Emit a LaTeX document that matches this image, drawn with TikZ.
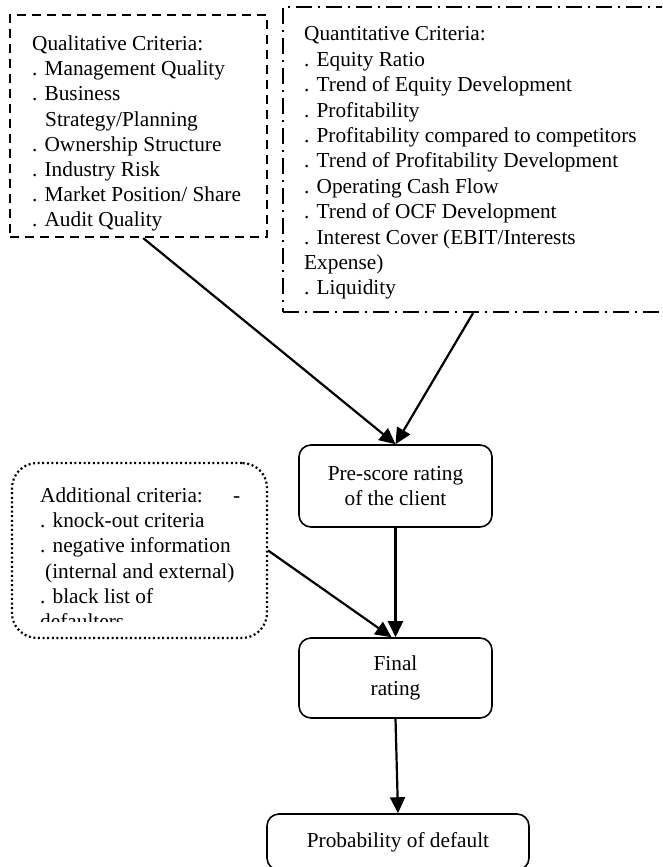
\documentclass[tikz,border=0pt]{standalone}
\usepackage{fontspec}
\setmainfont{Liberation Serif}
\usetikzlibrary{arrows.meta,calc}
\begin{document}
\begin{tikzpicture}[x=1pt,y=-1pt,
  txt/.style={inner sep=0pt,anchor=north west,align=left,font=\fontsize{21.3}{25.2}\selectfont},
  dashbox/.style={draw,line width=2.2pt,dash pattern=on 9pt off 6pt,inner sep=0pt},
  dashdotbox/.style={draw,line width=2.2pt,dash pattern=on 16pt off 6pt on 2pt off 6pt,inner sep=0pt},
  dotbox/.style={draw,line width=2.2pt,dash pattern=on 2pt off 2.6pt,rounded corners=25pt,inner sep=0pt},
  flowbox/.style={draw,line width=1.6pt,rounded corners=12pt,inner sep=0pt,align=center,font=\fontsize{21.3}{25}\selectfont},
  arr/.style={line width=2.2pt,-{Triangle[length=16pt,width=15pt]}}]
\clip (0,0) rectangle (662,867);
\fill[white] (0,0) rectangle (662,867);

% qualitative box
\node[dashbox,minimum width=257pt,minimum height=222pt] (qual) at (138.5,126) {};
\node[txt] (qualtxt) at (32,35.5) {Qualitative Criteria:\\
. Management Quality\\
. Business\\
\hspace*{13pt}Strategy/Planning\\
. Ownership Structure\\
. Industry Risk\\
. Market Position/ Share\\
. Audit Quality};

% quantitative box
\node[dashdotbox,minimum width=417pt,minimum height=305pt] (quant) at (491.5,159.5) {};
\node[txt,font=\fontsize{21.3}{25.4}\selectfont] (quanttxt) at (304,26.5) {Quantitative Criteria:\\
. Equity Ratio\\
. Trend of Equity Development\\
. Profitability\\
. Profitability compared to competitors\\
. Trend of Profitability Development\\
. Operating Cash Flow\\
. Trend of OCF Development\\
. Interest Cover (EBIT/Interests\\
Expense)\\
. Liquidity};

% additional criteria box
\node[dotbox,minimum width=255pt,minimum height=175pt] (add) at (139.5,550.5) {};
\begin{scope}
\clip (14,465) rectangle (265,621);
\node[txt] (addtxt) at (40,487.5) {\makebox[193pt][l]{Additional criteria:}-\\
. knock-out criteria\\
. negative information\\
\hspace*{5pt}(internal and external)\\
. black list of\\
defaulters};
\end{scope}

% flow boxes
\node[flowbox,minimum width=193pt,minimum height=82pt] (pre) at (395.5,486) {Pre-score rating\\of the client};
\node[flowbox,minimum width=193pt,minimum height=80pt] (fin) at (395.5,678) {Final\\rating};
\node[flowbox,minimum width=262pt,minimum height=56pt] (prob) at (398,842) {Probability of default};

% connectors
\draw[arr] ($(qual.south west)!0.518!(qual.south east)$) -- (pre.north);
\draw[arr] ($(quant.south west)!0.456!(quant.south east)$) -- (pre.north);
\draw[arr] (pre.south) -- (fin.north);
\draw[arr] (add.east) -- ($(fin.north)+(-4,0)$);
\draw[arr] (fin.south) -- (prob.north);
\end{tikzpicture}
\end{document}
